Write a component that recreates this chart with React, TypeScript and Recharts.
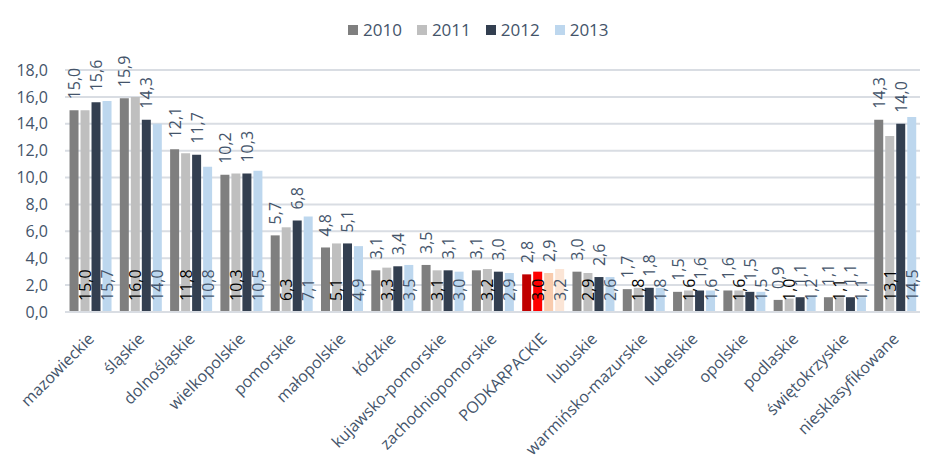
import React from 'react';
import { Bar, BarChart, CartesianGrid, Cell, LabelList, XAxis, YAxis } from 'recharts';

const categories = [
  'mazowieckie',
  'śląskie',
  'dolnośląskie',
  'wielkopolskie',
  'pomorskie',
  'małopolskie',
  'łódzkie',
  'kujawsko-pomorskie',
  'zachodniopomorskie',
  'PODKARPACKIE',
  'lubuskie',
  'warmińsko-mazurskie',
  'lubelskie',
  'opolskie',
  'podlaskie',
  'świętokrzyskie',
  'niesklasyfikowane',
];

const values2010 = [15.0, 15.9, 12.1, 10.2, 5.7, 4.8, 3.1, 3.5, 3.1, 2.8, 3.0, 1.7, 1.5, 1.6, 0.9, 1.1, 14.3];
const values2011 = [15.0, 16.0, 11.8, 10.3, 6.3, 5.1, 3.3, 3.1, 3.2, 3.0, 2.9, 1.8, 1.6, 1.6, 1.0, 1.1, 13.1];
const values2012 = [15.6, 14.3, 11.7, 10.3, 6.8, 5.1, 3.4, 3.1, 3.0, 2.9, 2.6, 1.8, 1.6, 1.5, 1.1, 1.1, 14.0];
const values2013 = [15.7, 14.0, 10.8, 10.5, 7.1, 4.9, 3.5, 3.0, 2.9, 3.2, 2.6, 1.8, 1.6, 1.5, 1.2, 1.1, 14.5];

const yTicks = [0, 2, 4, 6, 8, 10, 12, 14, 16, 18];

const HIGHLIGHT = 'PODKARPACKIE';
const FONT = '"Open Sans", "Noto Sans", sans-serif';
const TEXT = '#44546A';

const series = [
  { key: 'y2010', name: '2010', color: '#7F7F7F', accent: '#C00000', labelPos: 'top', labelColor: TEXT },
  { key: 'y2011', name: '2011', color: '#BFBFBF', accent: '#FF0000', labelPos: 'bottom', labelColor: '#000000' },
  { key: 'y2012', name: '2012', color: '#333F50', accent: '#F8CBAD', labelPos: 'top', labelColor: TEXT },
  { key: 'y2013', name: '2013', color: '#BDD7EE', accent: '#FBE5D6', labelPos: 'bottom', labelColor: TEXT },
];

const data = categories.map((name, i) => ({
  name,
  y2010: values2010[i],
  y2011: values2011[i],
  y2012: values2012[i],
  y2013: values2013[i],
}));

const fmt = (v: number) => Number(v).toFixed(1).replace('.', ',');

const makeLabel = (pos: string, color: string) => (props: any) => {
  const x = Number(props.x);
  const y = Number(props.y);
  const w = Number(props.width);
  const h = Number(props.height);
  const cx = x + w / 2;
  const ty = pos === 'top' ? y - 11 : y + h - 11;
  return (
    <text
      x={cx}
      y={ty}
      transform={`rotate(-90 ${cx} ${ty})`}
      textAnchor="start"
      dominantBaseline="central"
      fill={color}
      fontSize={16}
      fontFamily={FONT}
    >
      {fmt(props.value)}
    </text>
  );
};

const CategoryTick = (props: any) => {
  const { x, y, payload } = props;
  const tx = x + 5;
  const ty = y + 20;
  return (
    <text
      x={tx}
      y={ty}
      transform={`rotate(-45 ${tx} ${ty})`}
      textAnchor="end"
      fill={TEXT}
      fontSize={16}
      fontFamily={FONT}
    >
      {payload.value}
    </text>
  );
};

const ChartLegend = () => (
  <div
    style={{
      position: 'absolute',
      left: 348,
      top: 18,
      display: 'flex',
      alignItems: 'center',
      fontFamily: FONT,
      fontSize: 17,
      color: TEXT,
    }}
  >
    {series.map((s) => (
      <div key={s.key} style={{ display: 'flex', alignItems: 'center', marginRight: 15 }}>
        <span style={{ width: 10, height: 10, background: s.color, marginRight: 5, display: 'inline-block' }} />
        <span>{s.name}</span>
      </div>
    ))}
  </div>
);

export default function App() {
  return (
    <div style={{ position: 'absolute', left: 0, top: 0, width: 945, height: 472, background: '#fff' }}>
      <ChartLegend />
      <BarChart
        width={945}
        height={472}
        data={data}
        margin={{ top: 70, right: 25, left: 0, bottom: 0 }}
        barCategoryGap="9%"
        barGap={2}
      >
        <CartesianGrid vertical={false} stroke="#D9DDE3" strokeWidth={2} />
        <XAxis
          dataKey="name"
          interval={0}
          height={160}
          tick={<CategoryTick />}
          tickLine={false}
          axisLine={{ stroke: '#D9DDE3', strokeWidth: 2 }}
        />
        <YAxis
          width={65}
          domain={[0, 18]}
          ticks={yTicks}
          tickFormatter={fmt}
          axisLine={false}
          tickLine={false}
          tickMargin={11}
          tick={{ fill: TEXT, fontSize: 16, fontFamily: FONT }}
        />
        {series.map((s) => (
          <Bar key={s.key} dataKey={s.key} name={s.name} fill={s.color} isAnimationActive={false}>
            {data.map((d) => (
              <Cell key={d.name} fill={d.name === HIGHLIGHT ? s.accent : s.color} />
            ))}
            <LabelList dataKey={s.key} content={makeLabel(s.labelPos, s.labelColor)} />
          </Bar>
        ))}
      </BarChart>
    </div>
  );
}
